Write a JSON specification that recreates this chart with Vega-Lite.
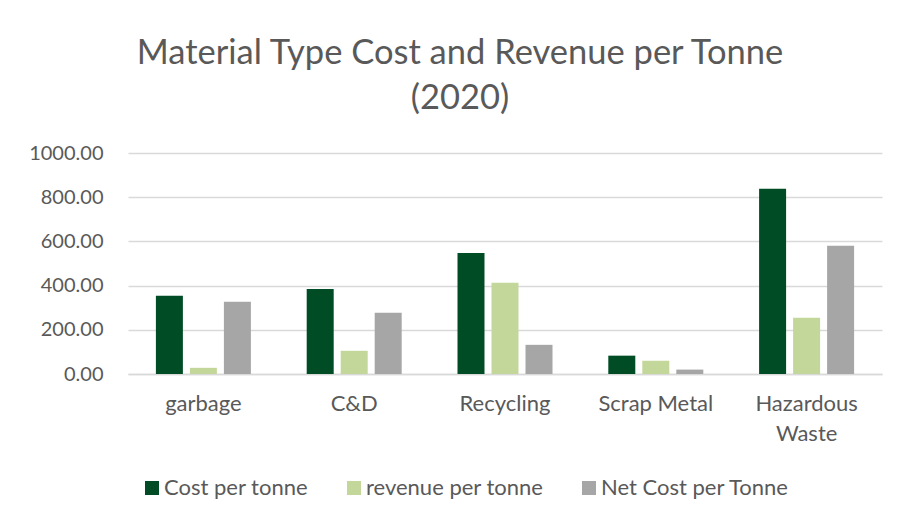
{
  "$schema": "https://vega.github.io/schema/vega-lite/v6.json",
  "width": 754,
  "height": 221,
  "autosize": {"type": "none"},
  "padding": {"top": 153, "left": 128, "right": 18, "bottom": 149},
  "background": "#ffffff",
  "title": {
    "text": ["Material Type Cost and Revenue per Tonne", "(2020)"],
    "font": "Lato",
    "fontSize": 34.5,
    "fontWeight": "normal",
    "color": "#595959",
    "anchor": "middle",
    "dx": -45,
    "offset": 27,
    "lineHeight": 45
  },
  "data": {
    "values": [
      {"material": "garbage", "measure": "Cost per tonne", "value": 354},
      {"material": "garbage", "measure": "revenue per tonne", "value": 28},
      {"material": "garbage", "measure": "Net Cost per Tonne", "value": 327},
      {"material": "C&D", "measure": "Cost per tonne", "value": 385},
      {"material": "C&D", "measure": "revenue per tonne", "value": 105},
      {"material": "C&D", "measure": "Net Cost per Tonne", "value": 277},
      {"material": "Recycling", "measure": "Cost per tonne", "value": 548},
      {"material": "Recycling", "measure": "revenue per tonne", "value": 413},
      {"material": "Recycling", "measure": "Net Cost per Tonne", "value": 132},
      {"material": "Scrap Metal", "measure": "Cost per tonne", "value": 83},
      {"material": "Scrap Metal", "measure": "revenue per tonne", "value": 60},
      {"material": "Scrap Metal", "measure": "Net Cost per Tonne", "value": 20},
      {"material": "Hazardous Waste", "measure": "Cost per tonne", "value": 838},
      {"material": "Hazardous Waste", "measure": "revenue per tonne", "value": 255},
      {"material": "Hazardous Waste", "measure": "Net Cost per Tonne", "value": 580}
    ]
  },
  "mark": {"type": "bar"},
  "encoding": {
    "x": {
      "field": "material",
      "type": "nominal",
      "sort": ["garbage", "C&D", "Recycling", "Scrap Metal", "Hazardous Waste"],
      "scale": {"paddingInner": 0.37, "paddingOuter": 0.185},
      "axis": {
        "title": null,
        "labelAngle": 0,
        "ticks": false,
        "domain": true,
        "domainColor": "#d9d9d9",
        "domainWidth": 1.5,
        "labelFont": "Lato",
        "labelFontSize": 22,
        "labelColor": "#595959",
        "labelPadding": 19,
        "labelLineHeight": 30,
        "labelExpr": "datum.value == 'Hazardous Waste' ? ['Hazardous', 'Waste'] : datum.value"
      }
    },
    "xOffset": {
      "field": "measure",
      "type": "nominal",
      "sort": ["Cost per tonne", "revenue per tonne", "Net Cost per Tonne"],
      "scale": {"paddingInner": 0.206, "paddingOuter": 0}
    },
    "y": {
      "field": "value",
      "type": "quantitative",
      "scale": {"domain": [0, 1000]},
      "axis": {
        "title": null,
        "values": [0, 200, 400, 600, 800, 1000],
        "format": ".2f",
        "ticks": false,
        "domain": false,
        "grid": true,
        "gridColor": "#d9d9d9",
        "gridWidth": 1.5,
        "labelFont": "Lato",
        "labelFontSize": 20,
        "labelColor": "#595959",
        "labelPadding": 25
      }
    },
    "color": {
      "field": "measure",
      "type": "nominal",
      "sort": ["Cost per tonne", "revenue per tonne", "Net Cost per Tonne"],
      "scale": {
        "domain": ["Cost per tonne", "revenue per tonne", "Net Cost per Tonne"],
        "range": ["#004d25", "#c4d79b", "#a6a6a6"]
      },
      "legend": {
        "title": null,
        "orient": "none",
        "direction": "horizontal",
        "legendX": 13,
        "legendY": 324,
        "padding": 0,
        "symbolType": "square",
        "symbolSize": 196,
        "symbolStrokeWidth": 0,
        "symbolOpacity": 1,
        "labelFont": "Lato",
        "labelFontSize": 22,
        "labelLimit": 400,
        "labelColor": "#595959",
        "labelOffset": 1,
        "columnPadding": 34
      }
    }
  },
  "config": {
    "view": {"stroke": null}
  }
}
